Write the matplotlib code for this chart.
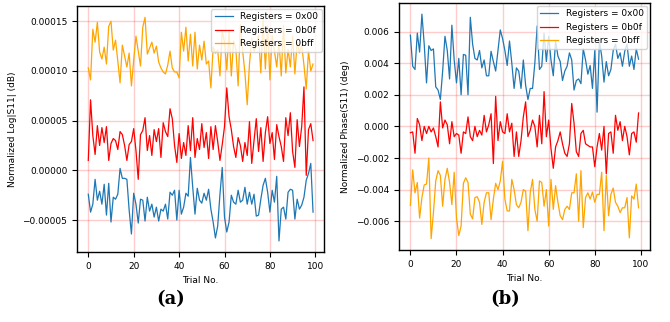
import matplotlib
matplotlib.use("Agg")
import matplotlib.pyplot as plt
import numpy as np

trials = np.arange(100)
labels = ["Registers = 0x00", "Registers = 0b0f", "Registers = 0bff"]
colors = ["#1f77b4", "red", "orange"]

# (a) normalized log magnitude, units of 1e-5 dB
logmag_0x00 = [-2.4, -4.2, -3.4, -0.9, -3.0, -2.1, -3.4, -1.4, -4.5, -1.3,
               -5.2, -2.7, -2.9, -2.4, 0.2, -0.8, -0.8, -0.9, -4.0, -6.4,
               -2.3, -3.4, -5.3, -2.9, -3.0, -5.1, -2.7, -4.1, -3.4, -4.7,
               -3.7, -5.1, -3.9, -4.1, -3.4, -4.9, -2.2, -2.5, -2.0, -5.0,
               -2.0, -4.4, -3.7, -2.3, -2.6, 1.3, -1.7, -4.4, -1.8, -3.0,
               -3.3, -2.3, -3.0, -1.9, -3.9, -5.2, -6.8, -5.6, -2.4, 0.3,
               -4.7, -6.2, -5.2, -2.5, -3.2, -3.4, -2.0, -3.2, -3.0, -1.7,
               -3.4, -2.2, -3.4, -2.4, -4.6, -4.5, -2.9, -1.5, -0.8, -2.2,
               -4.2, -2.0, -3.2, -0.6, -7.1, -3.9, -3.7, -4.9, -2.2, -1.9,
               -2.0, -4.9, -2.9, -3.9, -3.5, -2.7, -1.0, -0.3, 0.7, -4.2]
logmag_0b0f = [1.0, 7.1, 3.5, 1.6, 4.5, 2.5, 4.3, 2.8, 4.4, 1.0,
               2.7, 3.2, 3.0, 2.1, 3.9, 3.6, 2.5, 1.0, 2.6, 2.9,
               4.2, 2.0, -0.9, 3.6, 4.0, 5.3, 2.0, 3.5, 1.5, 4.1,
               2.9, 4.2, 1.3, 4.8, 3.9, 3.4, 6.2, 5.2, 2.5, 0.8,
               3.7, 1.2, 2.8, 1.5, 4.5, 2.0, 5.3, 1.3, 3.2, 2.1,
               4.7, 2.3, 3.8, 1.2, 4.4, 2.1, 4.5, 2.9, 1.0, 2.6,
               4.4, 8.3, 5.4, 4.1, 2.4, 1.3, 3.3, 2.5, 0.9, 2.8,
               1.5, 4.9, 0.7, 3.0, 5.2, 1.9, 4.3, 0.9, 3.8, 5.4,
               2.7, 3.8, 1.1, 4.6, 3.4, 2.4, 0.9, 5.3, 3.5, 5.8,
               1.9, 0.3, 5.1, 2.4, 4.4, 8.4, -0.5, 4.1, 4.7, 3.0]
logmag_0bff = [10.3, 9.1, 14.2, 12.9, 14.9, 11.9, 11.2, 12.4, 10.7, 14.5,
               15.0, 12.1, 13.1, 11.0, 8.8, 12.6, 11.5, 10.4, 11.8, 8.5,
               11.1, 13.5, 12.0, 10.5, 14.4, 15.4, 11.7, 12.3, 12.9, 11.8,
               12.5, 10.9, 10.3, 9.9, 9.7, 10.6, 12.0, 10.3, 9.9, 9.9,
               9.3, 13.9, 12.0, 14.4, 11.0, 13.7, 10.5, 13.9, 10.2, 12.6,
               11.1, 13.0, 10.7, 11.0, 8.3, 12.4, 11.8, 12.1, 9.5, 14.0,
               12.9, 10.1, 14.1, 9.5, 13.0, 12.2, 8.5, 14.7, 12.0, 9.8,
               6.6, 10.7, 13.3, 12.0, 12.5, 13.6, 9.8, 15.2, 10.2, 14.5,
               9.1, 13.6, 12.0, 10.4, 13.0, 9.5, 14.6, 9.8, 12.2, 10.4,
               13.5, 9.7, 12.9, 11.8, 12.6, 10.6, 8.2, 12.0, 10.0, 10.7]

# (b) normalized phase, units of 1e-3 deg
phase_0x00 = [5.77, 3.8, 3.6, 5.9, 4.7, 7.1, 5.2, 2.75, 5.1, 4.8,
              4.9, 2.5, 2.3, 1.7, 3.5, 5.7, 4.8, 3.0, 6.4, 4.2,
              2.75, 4.3, 2.0, 4.55, 4.5, 2.0, 6.9, 5.2, 4.3, 4.2,
              4.8, 3.7, 4.2, 3.2, 3.2, 4.75, 4.1, 3.5, 4.8, 6.1,
              5.55, 4.8, 3.85, 5.4, 4.0, 2.4, 3.7, 3.5, 2.4, 4.2,
              2.6, 1.7, 2.4, 2.4, 4.0, 6.35, 3.6, 3.8, 5.9, 4.1,
              5.7, 4.2, 3.2, 5.4, 4.45, 4.1, 2.9, 3.5, 3.8, 4.65,
              4.2, 2.3, 2.9, 3.0, 2.7, 4.9, 4.2, 3.3, 3.85, 2.4,
              4.8, 0.9, 5.4, 4.45, 2.8, 4.1, 3.2, 3.6, 4.8, 5.2,
              4.3, 4.65, 3.8, 4.75, 5.2, 3.8, 4.45, 3.6, 4.9, 4.25]
phase_0b0f = [-0.4, -0.35, -1.7, 0.5, 0.1, -0.9, 0.0, -0.45, 0.0, -0.35,
              -0.1, -0.65, -1.3, 1.55, -0.1, 0.4, 0.1, -1.1, 0.3, -0.65,
              -0.45, -0.55, -1.7, -0.35, -0.45, 0.6, -0.65, -0.9, 0.0, -0.65,
              -0.25, -0.55, 0.7, -0.35, 0.1, 0.8, -2.35, 1.9, -0.9, 0.3,
              -0.35, -0.45, 0.8, -0.35, 0.2, -1.9, -0.35, -1.9, -0.9, 0.6,
              1.55, -0.65, -0.25, 0.4, 0.0, -1.3, 0.7, -1.1, 2.2, -0.65,
              0.4, -1.4, -2.65, -1.3, -0.9, -0.35, -1.1, -1.7, -1.9, -1.1,
              1.45, 0.2, -1.6, -1.9, -0.45, -0.25, -1.1, -1.2, -1.3, -1.3,
              -2.55, -1.3, -0.45, -1.5, 0.0, -3.0, -0.45, -0.35, -1.7, 0.7,
              -0.25, 0.3, -0.9, 0.0, -0.65, -1.8, -0.45, -0.35, -1.0, 0.85]
phase_0bff = [-5.0, -2.75, -4.2, -3.55, -5.8, -4.5, -3.7, -3.65, -2.0, -7.1,
              -5.45, -3.45, -2.8, -3.1, -5.05, -3.35, -2.65, -3.55, -4.95, -2.9,
              -5.8, -6.9, -6.3, -3.6, -3.25, -3.55, -5.55, -5.85, -4.5, -4.45,
              -4.8, -6.2, -4.8, -4.2, -4.2, -5.9, -4.6, -3.6, -4.0, -3.45,
              -2.2, -4.6, -5.35, -5.35, -3.35, -4.0, -4.95, -5.15, -4.8, -4.0,
              -4.1, -6.6, -4.2, -3.35, -5.25, -6.0, -3.45, -3.55, -5.05, -4.0,
              -6.3, -3.35, -5.25, -3.75, -4.8, -5.65, -5.9, -5.25, -5.05, -5.25,
              -4.2, -4.2, -3.0, -6.0, -2.8, -6.4, -4.5, -4.2, -4.6, -4.15,
              -4.8, -4.3, -4.3, -2.9, -6.6, -3.1, -5.65, -4.3, -3.9, -4.8,
              -5.05, -5.45, -5.15, -5.15, -4.5, -7.05, -4.4, -4.6, -3.65, -5.15]

plt.rcParams['font.size'] = 6.5

fig = plt.figure(figsize=(6.7, 3.22), dpi=100)
ax1 = fig.add_axes([0.115, 0.217, 0.369, 0.764])
ax2 = fig.add_axes([0.5955, 0.224, 0.3746, 0.767])

left_series = [logmag_0x00, logmag_0b0f, logmag_0bff]
right_series = [phase_0x00, phase_0b0f, phase_0bff]

for ys, lab, c in zip(left_series, labels, colors):
    ax1.plot(trials, np.array(ys) * 1e-5, color=c, lw=0.9, label=lab)
for ys, lab, c in zip(right_series, labels, colors):
    ax2.plot(trials, np.array(ys) * 1e-3, color=c, lw=0.9, label=lab)

ax1.set_ylabel("Normalized Log|S11| (dB)")
ax2.set_ylabel("Normalized Phase(S11) (deg)")
for ax in (ax1, ax2):
    ax.set_xlabel("Trial No.")
    ax.grid(True, color="red", alpha=0.2, lw=1.0)
    ax.legend(loc="upper right", fontsize=6.5, borderaxespad=0.3)
    ax.set_xticks([0, 20, 40, 60, 80, 100])
    for s in ax.spines.values():
        s.set_linewidth(1.0)

ax1.set_yticks([-5e-5, 0, 5e-5, 1e-4, 1.5e-4])
ax1.set_yticklabels(["\u22120.00005", "0.00000", "0.00005", "0.00010", "0.00015"])

fig.text(0.254, 0.055, "(a)", fontsize=13, fontweight="bold",
         family="DejaVu Serif", ha="center")
fig.text(0.754, 0.055, "(b)", fontsize=13, fontweight="bold",
         family="DejaVu Serif", ha="center")

fig.savefig("out.png", dpi=100)
